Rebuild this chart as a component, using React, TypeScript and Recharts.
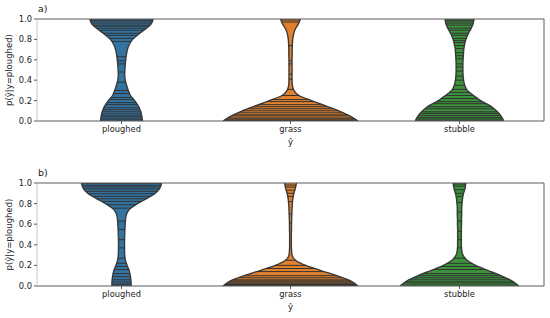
import { ComposedChart, Area, XAxis, YAxis, ReferenceLine } from 'recharts';

const categories = ['ploughed', 'grass', 'stubble'];
const colors = ['#3274a1', '#e1812c', '#3a923a'];
const yTicks = [0, 0.2, 0.4, 0.6, 0.8, 1.0];

// density grid (p values) shared by every violin
const yGrid = [0, 0.05, 0.1, 0.15, 0.2, 0.25, 0.3, 0.35, 0.4, 0.45, 0.5, 0.55, 0.6, 0.65, 0.7, 0.75, 0.8, 0.85, 0.9, 0.95, 1.0];

// half widths of the violins, panel a)
const ploughedA = [0.124, 0.120, 0.112, 0.098, 0.078, 0.053, 0.040, 0.030, 0.022, 0.019, 0.020, 0.022, 0.025, 0.029, 0.035, 0.046, 0.066, 0.100, 0.140, 0.175, 0.187];
const grassA = [0.400, 0.350, 0.285, 0.205, 0.125, 0.050, 0.020, 0.011, 0.009, 0.009, 0.009, 0.009, 0.009, 0.010, 0.010, 0.011, 0.013, 0.018, 0.028, 0.046, 0.059];
const stubbleA = [0.262, 0.245, 0.218, 0.180, 0.125, 0.083, 0.046, 0.031, 0.024, 0.021, 0.020, 0.020, 0.021, 0.023, 0.025, 0.030, 0.038, 0.050, 0.066, 0.080, 0.086];

// half widths, panel b)
const ploughedB = [0.057, 0.056, 0.052, 0.045, 0.033, 0.023, 0.019, 0.018, 0.018, 0.018, 0.019, 0.020, 0.022, 0.024, 0.030, 0.050, 0.095, 0.150, 0.200, 0.227, 0.237];
const grassB = [0.400, 0.355, 0.275, 0.180, 0.090, 0.030, 0.009, 0.006, 0.005, 0.005, 0.005, 0.006, 0.006, 0.007, 0.008, 0.009, 0.011, 0.014, 0.020, 0.029, 0.035];
const stubbleB = [0.351, 0.310, 0.245, 0.170, 0.095, 0.045, 0.020, 0.013, 0.011, 0.011, 0.011, 0.011, 0.012, 0.012, 0.013, 0.013, 0.015, 0.018, 0.024, 0.033, 0.037];

// observations drawn as sticks
const ploughedSticksA = [0.99, 0.98, 0.96, 0.94, 0.93, 0.91, 0.89, 0.86, 0.84, 0.81, 0.78, 0.63, 0.59, 0.56, 0.48, 0.38, 0.30, 0.27, 0.23, 0.21, 0.18, 0.16, 0.13, 0.11, 0.09, 0.07, 0.05, 0.04, 0.02, 0.01];
const grassSticksA = [0.99, 0.97, 0.74, 0.59, 0.56, 0.46, 0.41, 0.31, 0.25, 0.21, 0.19, 0.16, 0.14, 0.12, 0.10, 0.08, 0.06, 0.05, 0.03, 0.02, 0.01, 0.005];
const stubbleSticksA = [0.99, 0.98, 0.96, 0.94, 0.91, 0.89, 0.86, 0.84, 0.81, 0.79, 0.77, 0.74, 0.71, 0.67, 0.64, 0.61, 0.56, 0.53, 0.49, 0.44, 0.40, 0.35, 0.31, 0.28, 0.25, 0.22, 0.19, 0.17, 0.14, 0.12, 0.09, 0.075, 0.055, 0.036, 0.02, 0.007];

const ploughedSticksB = [0.994, 0.977, 0.961, 0.942, 0.919, 0.896, 0.87, 0.847, 0.821, 0.789, 0.756, 0.63, 0.55, 0.45, 0.37, 0.27, 0.22, 0.19, 0.16, 0.12, 0.09, 0.06, 0.04, 0.02, 0.01];
const grassSticksB = [0.98, 0.96, 0.93, 0.90, 0.87, 0.82, 0.70, 0.61, 0.25, 0.20, 0.17, 0.14, 0.10, 0.08, 0.06, 0.05, 0.04, 0.03, 0.02, 0.015, 0.01, 0.005];
const stubbleSticksB = [0.99, 0.97, 0.935, 0.90, 0.87, 0.81, 0.72, 0.63, 0.53, 0.45, 0.37, 0.27, 0.22, 0.19, 0.16, 0.12, 0.10, 0.08, 0.06, 0.04, 0.03, 0.01];

const font = 'DejaVu Sans, sans-serif';
const spine = '#5a5a5a';
const outline = '#3a3a3a';

function halfWidthAt(profile: number[], y: number) {
    for (let i = 0; i < yGrid.length - 1; i++) {
        if (y >= yGrid[i] && y <= yGrid[i + 1]) {
            const t = (y - yGrid[i]) / (yGrid[i + 1] - yGrid[i]);
            return profile[i] + t * (profile[i + 1] - profile[i]);
        }
    }
    return profile[profile.length - 1];
}

type PanelProps = {
    title: string;
    profiles: number[][];
    sticks: number[][];
    height: number;
    bottom: number;
}

function Panel({ title, profiles, sticks, height, bottom }: PanelProps) {
    const rows = yGrid.map((y, i) => {
        const row: any = { y };
        categories.forEach((c, k) => {
            row[c] = [k - profiles[k][i], k + profiles[k][i]];
        });
        return row;
    });

    return (
        <div style={{ position: 'relative', width: 550, height }}>
            <div style={{ position: 'absolute', left: 38, top: 3, fontSize: 9.5, fontFamily: font, color: '#222' }}>{title}</div>
            <ComposedChart
                layout="vertical"
                width={550}
                height={height}
                data={rows}
                margin={{ top: 19, right: 6, bottom, left: 0 }}
            >
                <XAxis
                    type="number"
                    domain={[-0.5, 2.5]}
                    ticks={[0, 1, 2]}
                    tickFormatter={(v: number) => categories[v]}
                    height={30}
                    stroke={spine}
                    tickSize={3}
                    tick={{ fontSize: 8.3, fill: '#222', fontFamily: font }}
                    label={{ value: 'ŷ', position: 'insideBottom', offset: 6, fontSize: 8.5, fill: '#222', fontFamily: font }}
                    allowDataOverflow
                />
                <YAxis
                    type="number"
                    dataKey="y"
                    domain={[0, 1]}
                    ticks={yTicks}
                    tickFormatter={(v: number) => v.toFixed(1)}
                    width={37}
                    reversed
                    stroke="#c8c8c8"
                    tickLine={{ stroke: spine }}
                    tickSize={3}
                    tick={{ fontSize: 8.3, fill: '#222', fontFamily: font }}
                    label={{ value: 'p(ŷ|y=ploughed)', angle: -90, position: 'insideLeft', offset: 9, fontSize: 8.5, fill: '#222', fontFamily: font, style: { textAnchor: 'middle' } }}
                    allowDataOverflow
                />
                {categories.map((c, k) => (
                    <Area
                        key={c}
                        dataKey={c}
                        type="monotone"
                        fill={colors[k]}
                        fillOpacity={1}
                        stroke={outline}
                        strokeWidth={1.4}
                        dot={false}
                        activeDot={false}
                        isAnimationActive={false}
                    />
                ))}
                {sticks.map((list, k) =>
                    list.map((y, j) => {
                        const w = halfWidthAt(profiles[k], y);
                        return (
                            <ReferenceLine
                                key={`s${k}-${j}`}
                                segment={[{ x: k - w, y }, { x: k + w, y }]}
                                stroke="#333333"
                                strokeWidth={1}
                                ifOverflow="visible"
                            />
                        );
                    })
                )}
                <ReferenceLine y={1} stroke={spine} strokeWidth={1} ifOverflow="visible" />
                <ReferenceLine x={2.5} stroke={spine} strokeWidth={1} ifOverflow="visible" />
            </ComposedChart>
        </div>
    );
}

export default function App() {
    return (
        <div style={{ position: 'absolute', left: 0, top: 0, width: 550, height: 318, background: '#fff', fontFamily: font }}>
            <Panel
                title="a)"
                profiles={[ploughedA, grassA, stubbleA]}
                sticks={[ploughedSticksA, grassSticksA, stubbleSticksA]}
                height={159}
                bottom={8}
            />
            <div style={{ position: 'absolute', left: 0, top: 164 }}>
                <Panel
                    title="b)"
                    profiles={[ploughedB, grassB, stubbleB]}
                    sticks={[ploughedSticksB, grassSticksB, stubbleSticksB]}
                    height={154}
                    bottom={2}
                />
            </div>
        </div>
    );
}
